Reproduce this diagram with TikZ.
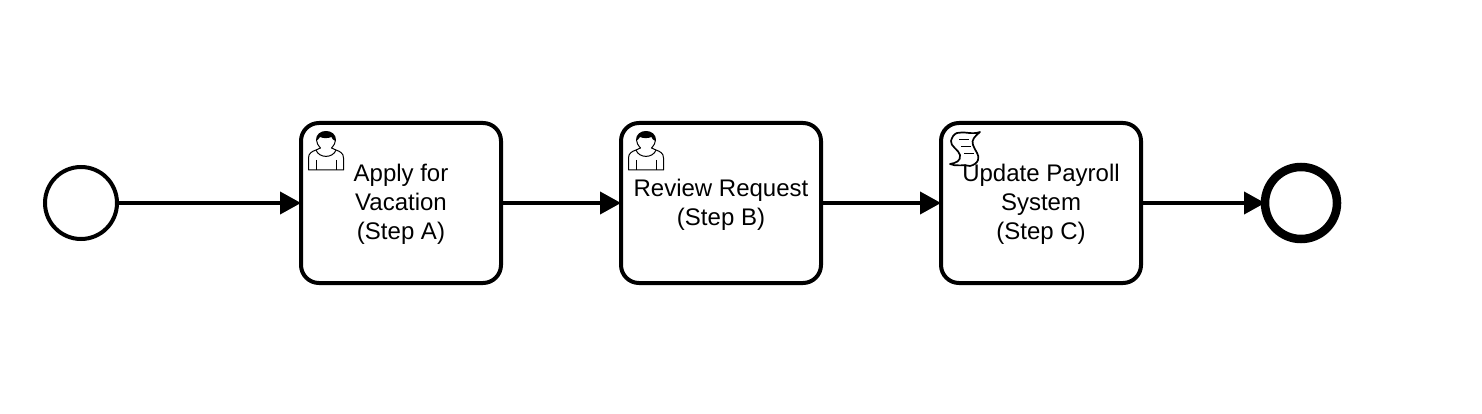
\documentclass[tikz,border=0pt]{standalone}
\usepackage{fontspec}
\setmainfont{Liberation Sans}
\usetikzlibrary{arrows.meta}
\tikzset{
  x=1pt,y=-1pt,
  taskbox/.style={draw,line width=4pt,rounded corners=18pt,minimum width=200pt,minimum height=160pt,outer sep=0pt,fill=white,inner sep=0pt},
  tasklabel/.style={align=center,inner sep=0pt,font=\fontsize{24}{29}\selectfont},
  startev/.style={draw,circle,line width=4pt,minimum size=72pt,outer sep=0pt,inner sep=0pt,fill=white},
  endev/.style={draw,circle,line width=8.5pt,minimum size=72pt,outer sep=0pt,inner sep=0pt,fill=white},
  flow/.style={line width=4pt,-{Triangle[length=21pt,width=22pt]}},
  icon/.style={line width=1pt,line join=round},
  usericon/.pic={
    \draw[icon] (-17.5,39) -- (-17.5,27) .. controls (-17.5,22) and (-14,20.5) .. (-10,19) -- (-5.5,17) .. controls (-8,14) and (-9.5,12) .. (-9.5,9) .. controls (-9.5,3.5) and (-5,0.5) .. (0,0.5) .. controls (5,0.5) and (9.5,3.5) .. (9.5,9) .. controls (9.5,12) and (8,14) .. (5.5,17) -- (10,19) .. controls (14,20.5) and (17.5,22) .. (17.5,27) -- (17.5,39) -- cycle;
    \fill (-9.5,9.5) .. controls (-10,3.5) and (-5,0.5) .. (0,0.5) .. controls (5,0.5) and (10,3.5) .. (9.5,10) .. controls (7.5,9.5) and (6,8) .. (5.5,6) .. controls (2,7.5) and (-3,7.5) .. (-6,6) .. controls (-7,7.5) and (-8,9) .. (-9.5,9.5) -- cycle;
    \draw[icon] (-10,19) .. controls (-7,27.5) and (7,27.5) .. (10,19);
    \draw[icon] (-10,29) -- (-10,39) (10,29) -- (10,39);
  },
  scripticon/.pic={
    \draw[icon,line width=1.7pt] (7,1) .. controls (14,-1) and (22,3) .. (30,0) .. controls (25,4) and (21,8) .. (23,13) .. controls (25,19) and (30,23) .. (28,28) .. controls (27,31) and (24,33) .. (20,34) .. controls (14,32) and (6,35) .. (0,32) .. controls (6,31) and (11,29) .. (10,23) .. controls (9,18) and (0,14) .. (1,9) .. controls (2,5) and (4,2) .. (7,1) -- cycle;
    \draw[icon,line width=1.7pt] (9,7.5) -- (19,7.5) (11,14.5) -- (21,14.5) (14,21.5) -- (24,21.5);
  }
}
\begin{document}
\begin{tikzpicture}
\useasboundingbox (0,0) rectangle (1482,414);
\node[startev] (start) at (81,203) {};
\node[taskbox] (a) at (401,203) {};
\node[taskbox] (b) at (721,203) {};
\node[taskbox] (c) at (1041,203) {};
\node[endev] (end) at (1301,203) {};
\pic at (326,131) {usericon};
\pic at (646,131) {usericon};
\pic at (950,132) {scripticon};
\node[tasklabel] (la) at ([yshift=-1.5pt]a.center) {Apply for\\Vacation\\(Step A)};
\node[tasklabel] (lb) at ([yshift=-1.5pt]b.center) {Review Request\\(Step B)};
\node[tasklabel] (lc) at ([yshift=-1.5pt]c.center) {Update Payroll\\System\\(Step C)};
\draw[flow] (start) -- (a);
\draw[flow] (a) -- (b);
\draw[flow] (b) -- (c);
\draw[flow] (c) -- (end);
\end{tikzpicture}
\end{document}
